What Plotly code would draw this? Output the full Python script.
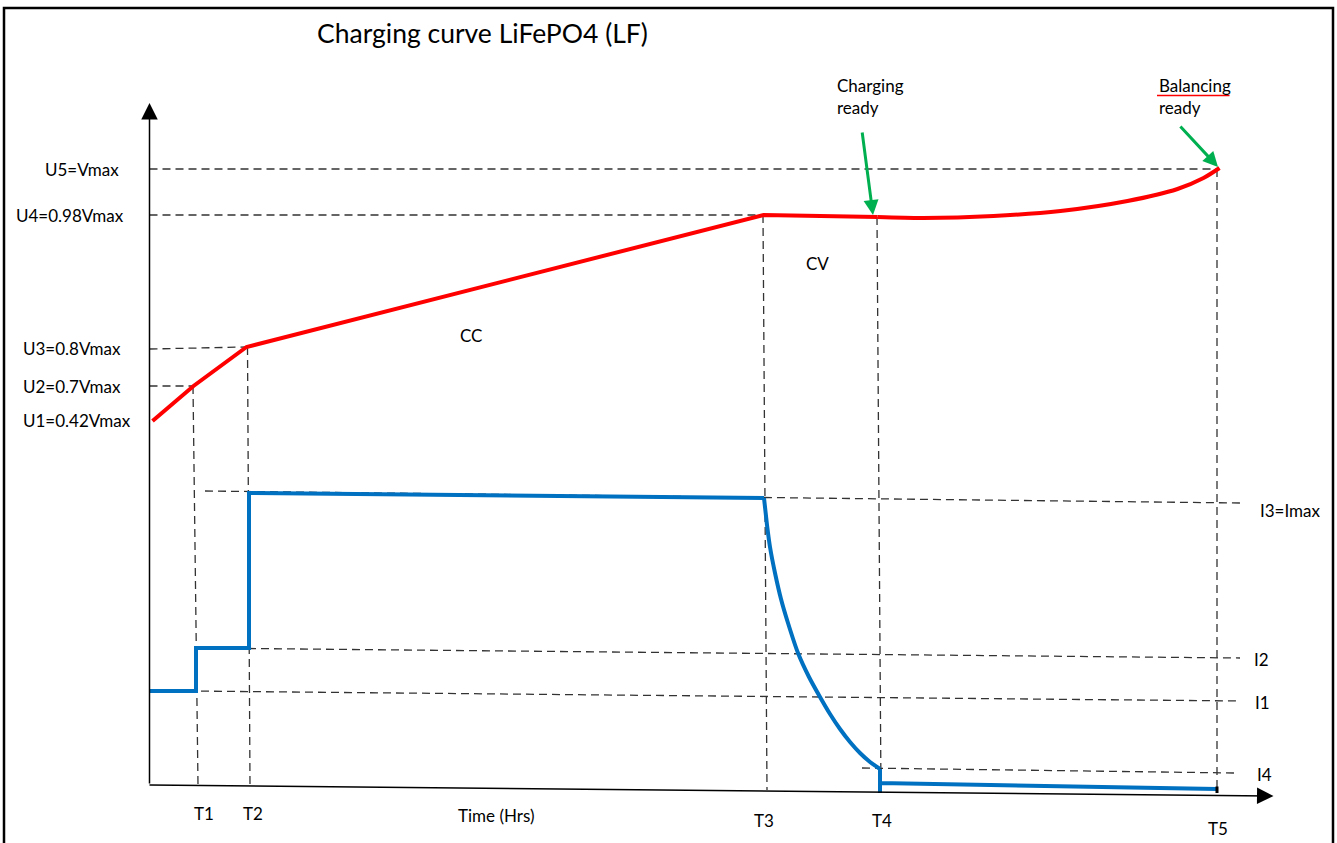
import plotly.graph_objects as go

# Diagram units: 1 unit = 100 px of the original sketch, origin at the axes corner.
# ---------------- data ----------------
time_labels = ["T1", "T2", "T3", "T4", "T5"]
time_pos = [0.46, 0.99, 6.15, 7.30, 10.675]

volt_labels = ["U5=Vmax", "U4=0.98Vmax", "U3=0.8Vmax", "U2=0.7Vmax", "U1=0.42Vmax"]
volt_levels = [6.16, 5.70, 4.37, 3.99, 3.65]

curr_labels = ["I3=Imax", "I2", "I1", "I4"]
curr_levels = [2.75, 1.26, 0.83, 0.11]

# voltage curve (red): linear part CC, then CV tail
volt_t_cc = [0.03, 0.44, 0.97, 6.14, 7.28]
volt_v_cc = [3.64, 3.99, 4.38, 5.70, 5.68]
volt_t_cv = [7.28, 7.74, 8.44, 9.11, 9.78, 10.28, 10.54, 10.70]
volt_v_cv = [5.68, 5.67, 5.69, 5.74, 5.84, 5.96, 6.07, 6.17]

# current curve (blue)
curr_t_steps = [0.0, 0.465, 0.465, 0.995, 0.995, 6.145]
curr_i_steps = [0.94, 0.94, 1.37, 1.37, 2.92, 2.87]
curr_t_decay = [6.145, 6.175, 6.205, 6.255, 6.315, 6.385, 6.485, 6.595, 6.705,
                6.805, 6.905, 7.005, 7.105, 7.205, 7.305]
curr_i_decay = [2.87, 2.60, 2.38, 2.12, 1.86, 1.62, 1.32, 1.08, 0.88,
                0.71, 0.56, 0.43, 0.32, 0.23, 0.16]
curr_t_tail = [7.305, 7.305, 7.305, 10.675]
curr_i_tail = [0.16, -0.08, 0.02, -0.04]

# dashed guide lines: (t0, v0, t1, v1)
guides_h = [
    (0.0, 6.16, 10.685, 6.16),     # U5
    (0.0, 5.70, 6.14, 5.70),       # U4
    (0.0, 4.36, 0.965, 4.38),      # U3
    (0.0, 3.99, 0.435, 3.99),      # U2
    (0.555, 2.94, 10.905, 2.82),   # I3
    (0.465, 1.37, 10.905, 1.27),   # I2
    (0.385, 0.94, 10.905, 0.84),   # I1
    (7.125, 0.17, 10.855, 0.12),   # I4
]
guides_v = [
    (0.435, 3.99, 0.485, 0.0),     # T1
    (0.98, 4.38, 1.005, 0.0),      # T2
    (6.135, 5.70, 6.175, -0.05),   # T3
    (7.275, 5.68, 7.315, -0.08),   # T4
    (10.675, 6.16, 10.675, -0.08), # T5
]

# text placement
time_label_y = [-0.28, -0.28, -0.35, -0.35, -0.43]
time_label_x = [0.545, 1.035, 6.145, 7.325, 10.685]
volt_label_x = [-0.285, -0.235, -0.265, -0.265, -0.165]
curr_label_x = [11.085, 11.025, 11.035, 11.055]

FONT = "Lato"
TXT = "#000000"
RED = "#FF0000"
BLUE = "#0070C0"
GREEN = "#00B050"
DASH = "8px,5px"

fig = go.Figure()

for (a, b, c, d) in guides_h + guides_v:
    fig.add_trace(go.Scatter(x=[a, c], y=[b, d], mode="lines",
                             line=dict(color="#333333", width=1.3, dash=DASH),
                             hoverinfo="skip"))

# current curve
fig.add_trace(go.Scatter(x=curr_t_steps, y=curr_i_steps, mode="lines",
                         line=dict(color=BLUE, width=4), hoverinfo="skip"))
fig.add_trace(go.Scatter(x=curr_t_decay, y=curr_i_decay, mode="lines",
                         line=dict(color=BLUE, width=4, shape="spline", smoothing=0.5),
                         hoverinfo="skip"))
fig.add_trace(go.Scatter(x=curr_t_tail, y=curr_i_tail, mode="lines",
                         line=dict(color=BLUE, width=4), hoverinfo="skip"))
# T5 end tick
fig.add_trace(go.Scatter(x=[time_pos[4], time_pos[4]], y=[-0.015, -0.08], mode="lines",
                         line=dict(color="#000000", width=3), hoverinfo="skip"))

# voltage curve
fig.add_trace(go.Scatter(x=volt_t_cc, y=volt_v_cc, mode="lines",
                         line=dict(color=RED, width=4), hoverinfo="skip"))
fig.add_trace(go.Scatter(x=volt_t_cv, y=volt_v_cv, mode="lines",
                         line=dict(color=RED, width=4, shape="spline", smoothing=0.8),
                         hoverinfo="skip"))

# spell-check underline under "Balancing"
fig.add_trace(go.Scatter(x=[10.075, 10.80], y=[6.895, 6.895], mode="lines",
                         line=dict(color=RED, width=1.5), hoverinfo="skip"))

ann = []
# axes with arrow heads
ann.append(dict(x=0.0, y=6.82, ax=0.0, ay=0.0, xref="x", yref="y", axref="x", ayref="y",
                text="", showarrow=True, arrowhead=2, arrowsize=2.2, arrowwidth=1.5,
                arrowcolor="#000000"))
ann.append(dict(x=11.24, y=-0.11, ax=-0.015, ay=0.0, xref="x", yref="y", axref="x", ayref="y",
                text="", showarrow=True, arrowhead=2, arrowsize=2.2, arrowwidth=1.5,
                arrowcolor="#000000"))
# green pointers
ann.append(dict(x=7.235, y=5.70, ax=7.125, ay=6.54, xref="x", yref="y", axref="x", ayref="y",
                text="", showarrow=True, arrowhead=2, arrowsize=1.0, arrowwidth=3,
                arrowcolor=GREEN))
ann.append(dict(x=10.685, y=6.18, ax=10.295, ay=6.60, xref="x", yref="y", axref="x", ayref="y",
                text="", showarrow=True, arrowhead=2, arrowsize=1.0, arrowwidth=3,
                arrowcolor=GREEN))

def label(x, y, text, size=17, xanchor="center", align="center"):
    return dict(x=x, y=y, xref="x", yref="y", text=text, showarrow=False,
                xanchor=xanchor, yanchor="middle", align=align,
                font=dict(family=FONT, size=size, color=TXT))

ann.append(label(3.325, 7.52, "Charging curve LiFePO4 (LF)", size=26.5))
for lx, lv, lt in zip(volt_label_x, volt_levels, volt_labels):
    ann.append(label(lx, lv, lt, xanchor="right"))
for lx, lv, lt in zip(curr_label_x, curr_levels, curr_labels):
    ann.append(label(lx, lv, lt, xanchor="left"))
for lx, ly, lt in zip(time_label_x, time_label_y, time_labels):
    ann.append(label(lx, ly, lt))
ann.append(label(3.465, -0.30, "Time (Hrs)"))
ann.append(label(3.215, 4.50, "CC"))
ann.append(label(6.675, 5.22, "CV"))
ann.append(label(6.855, 6.885, "Charging<br>ready", xanchor="left", align="left"))
ann.append(label(10.075, 6.885, "Balancing<br>ready", xanchor="left", align="left"))

fig.update_layout(
    width=1337, height=843,
    margin=dict(l=0, r=0, t=0, b=0),
    paper_bgcolor="white", plot_bgcolor="white",
    showlegend=False,
    xaxis=dict(range=[-1.495, 11.875], visible=False, fixedrange=True),
    yaxis=dict(range=[-0.58, 7.85], visible=False, fixedrange=True),
    annotations=ann,
    shapes=[dict(type="rect", xref="paper", yref="paper",
                 x0=4 / 1337, x1=1333 / 1337, y0=-0.02, y1=1 - 8 / 843,
                 line=dict(color="#000000", width=2.5), fillcolor="rgba(0,0,0,0)")],
)

fig.write_html("out.html", config={"displayModeBar": False},
               post_script="document.body.style.margin='0';document.body.style.overflow='hidden';")
